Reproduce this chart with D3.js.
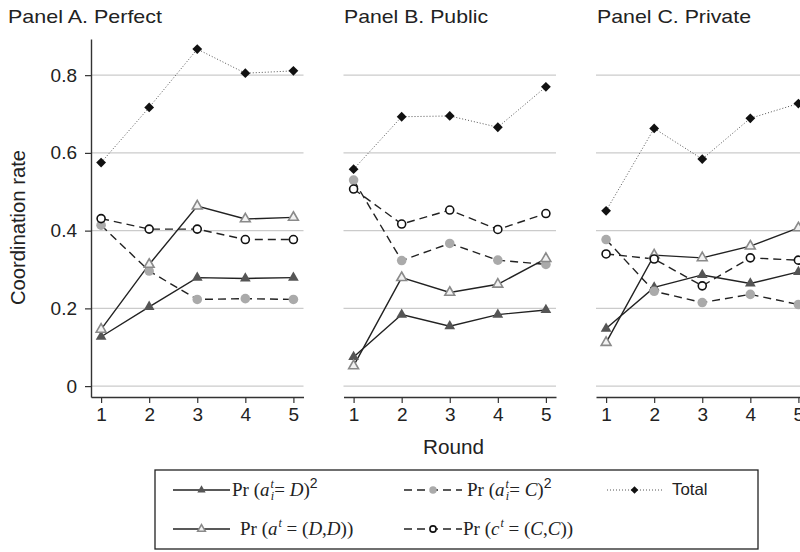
<!DOCTYPE html>
<html>
<head>
<meta charset="utf-8">
<script src="https://cdn.jsdelivr.net/npm/d3@7"></script>
<style>
  body { margin: 0; background: #fff; }
  svg { display: block; font-family: "Liberation Sans", Arial, sans-serif; }
  text { white-space: pre; }
</style>
</head>
<body>
<svg id="chart" width="800" height="552"></svg>
<script>
// данные
const rounds = [1, 2, 3, 4, 5];
const panelTitles = ["Panel A. Perfect", "Panel B. Public", "Panel C. Private"];
const yTicks = [0, 0.2, 0.4, 0.6, 0.8];
const yTickLabels = ["0", "0.2", "0.4", "0.6", "0.8"];

// по панелям A, B, C
const prD2 = [[0.127, 0.204, 0.279, 0.277, 0.279], [0.075, 0.184, 0.154, 0.184, 0.196], [0.148, 0.254, 0.286, 0.264, 0.294]];
const prC2 = [[0.414, 0.296, 0.223, 0.225, 0.223], [0.530, 0.323, 0.367, 0.324, 0.313], [0.377, 0.244, 0.215, 0.236, 0.210]];
const total = [[0.575, 0.717, 0.867, 0.805, 0.811], [0.558, 0.693, 0.695, 0.666, 0.770], [0.451, 0.663, 0.584, 0.689, 0.727]];
const prDD = [[0.146, 0.313, 0.463, 0.430, 0.434], [0.052, 0.279, 0.241, 0.262, 0.328], [0.112, 0.337, 0.330, 0.360, 0.407]];
const prCC = [[0.431, 0.404, 0.404, 0.377, 0.377], [0.507, 0.417, 0.453, 0.403, 0.444], [0.340, 0.327, 0.258, 0.330, 0.324]];

const ink = "#222";
const serif = "'Liberation Serif', 'Times New Roman', serif";

// порядок как в легенде
const series = [
    { vals: prD2, dash: null, stroke: ink, width: 1.4, marker: "triFill" },
    { vals: prC2, dash: "8,5", stroke: ink, width: 1.4, marker: "dotGray" },
    { vals: total, dash: "1,2", stroke: "#555", width: 1, marker: "diamond" },
    { vals: prDD, dash: null, stroke: ink, width: 1.4, marker: "triHollow" },
    { vals: prCC, dash: "8,5", stroke: ink, width: 1.4, marker: "circHollow" }
];

const svg = d3.select("#chart");

const area = { top: 39, bottom: 397, panelW: 212.5 };
const panelX0 = [91, 343.5, 596];
const titleX = [8, 344, 597];
const titleW = [154, 144, 154];

// общая шкала Y
const scY = d3.scaleLinear().domain([-0.028, 0.893]).range([area.bottom, area.top]);

// рисуем маркер
function marker(g, type, x, y, k) {
    k = k || 1;
    if (type === "triFill" || type === "triHollow") {
        const p = g.append("path")
            .attr("d", d3.symbol().type(d3.symbolTriangle).size(type === "triFill" ? 50 * k : 42 * k)())
            .attr("transform", `translate(${x},${y})`);
        if (type === "triFill") p.attr("fill", "#555");
        else p.attr("fill", "#f2f2f2").attr("stroke", "#8a8a8a").attr("stroke-width", 1.6);
    } else if (type === "dotGray") {
        g.append("circle").attr("cx", x).attr("cy", y).attr("r", 4.8 * Math.sqrt(k)).attr("fill", "#aaa");
    } else if (type === "circHollow") {
        g.append("circle").attr("cx", x).attr("cy", y).attr("r", 4 * Math.sqrt(k))
            .attr("fill", "#fff").attr("stroke", "#111").attr("stroke-width", 1.6);
    } else if (type === "diamond") {
        g.append("path")
            .attr("d", d3.symbol().type(d3.symbolSquare).size(48 * k)())
            .attr("transform", `translate(${x},${y}) rotate(45)`)
            .attr("fill", "#111");
    }
}

panelX0.forEach((x0, p) => {
    const g = svg.append("g");
    const scX = d3.scaleLinear().domain([0.79, 5.21]).range([x0, x0 + area.panelW]);

    // сетка
    g.selectAll(".grid")
        .data(yTicks)
        .enter()
        .append("line")
        .attr("x1", x0)
        .attr("x2", x0 + area.panelW)
        .attr("y1", d => scY(d))
        .attr("y2", d => scY(d))
        .attr("stroke", "#cbcbcb")
        .attr("stroke-width", 1.2);

    // ось X
    const ax = g.append("g")
        .attr("transform", `translate(0,${area.bottom})`)
        .call(d3.axisBottom(scX).tickValues(rounds).tickSize(6).tickPadding(5).tickSizeOuter(0).tickFormat(d3.format("d")));
    ax.select(".domain").attr("stroke", "#333").attr("stroke-width", 1.4);
    ax.selectAll(".tick line").attr("stroke", "#333").attr("stroke-width", 1.2);
    ax.selectAll("text").style("font-size", "19px").attr("fill", ink);

    // ось Y только у первой панели
    if (p === 0) {
        const ay = g.append("g")
            .attr("transform", `translate(${x0},0)`)
            .call(d3.axisLeft(scY).tickValues(yTicks).tickSize(6).tickPadding(8).tickSizeOuter(0)
                .tickFormat((d, i) => yTickLabels[i]));
        ay.select(".domain").attr("stroke", "#333").attr("stroke-width", 1.4);
        ay.selectAll(".tick line").attr("stroke", "#333").attr("stroke-width", 1.2);
        ay.selectAll("text").style("font-size", "19px").attr("fill", ink);
    }

    // заголовок панели
    svg.append("text")
        .attr("x", titleX[p])
        .attr("y", 23.3)
        .style("font-size", "19px")
        .attr("textLength", titleW[p])
        .attr("lengthAdjust", "spacingAndGlyphs")
        .attr("fill", ink)
        .text(panelTitles[p]);

    // линии и маркеры
    const line = d3.line().x((d, i) => scX(rounds[i])).y(d => scY(d));
    for (let s of series) {
        g.append("path")
            .attr("d", line(s.vals[p]))
            .attr("fill", "none")
            .attr("stroke", s.stroke)
            .attr("stroke-width", s.width)
            .attr("stroke-dasharray", s.dash);
    }
    for (let s of series) {
        s.vals[p].forEach((v, i) => marker(g, s.marker, scX(rounds[i]), scY(v)));
    }
});

// подписи осей
svg.append("text")
    .attr("transform", "translate(25,227.5) rotate(-90)")
    .attr("text-anchor", "middle")
    .style("font-size", "19.5px")
    .attr("textLength", 155)
    .attr("lengthAdjust", "spacingAndGlyphs")
    .attr("fill", ink)
    .text("Coordination rate");

svg.append("text")
    .attr("x", 453.5)
    .attr("y", 453.7)
    .attr("text-anchor", "middle")
    .style("font-size", "19.5px")
    .attr("textLength", 61)
    .attr("lengthAdjust", "spacingAndGlyphs")
    .attr("fill", ink)
    .text("Round");

// легенда
const leg = svg.append("g");
leg.append("rect")
    .attr("x", 155).attr("y", 470).attr("width", 603).attr("height", 79)
    .attr("fill", "none").attr("stroke", "#222").attr("stroke-width", 1.3);

const rowY = [490, 529];
const legItems = [
    { s: 0, x1: 173, x2: 230, row: 0 },
    { s: 1, x1: 404, x2: 462, row: 0 },
    { s: 2, x1: 607, x2: 662, row: 0 },
    { s: 3, x1: 173, x2: 230, row: 1 },
    { s: 4, x1: 404, x2: 462, row: 1 }
];
legItems.forEach(it => {
    const s = series[it.s];
    const y = rowY[it.row];
    leg.append("line")
        .attr("x1", it.x1).attr("x2", it.x2).attr("y1", y).attr("y2", y)
        .attr("stroke", s.stroke).attr("stroke-width", s.width === 1 ? 1 : 1.3)
        .attr("stroke-dasharray", s.dash);
    marker(leg, s.marker, (it.x1 + it.x2) / 2, y, 0.6);
});

// формулы в легенде
function mathText(x, y, parts) {
    const t = leg.append("text").attr("x", x).attr("y", y)
        .style("font-family", serif).style("font-size", "19px").attr("fill", ink);
    parts.forEach(pt => {
        const s = t.append("tspan").text(pt[0]);
        const o = pt[1] || {};
        if (o.it) s.style("font-style", "italic");
        if (o.fs) s.style("font-size", o.fs + "px");
        if (o.dx) s.attr("dx", o.dx);
        if (o.dy) s.attr("dy", o.dy);
        if (o.sans) s.style("font-family", "'Liberation Sans', Arial, sans-serif");
    });
}

mathText(232, 496, [["Pr ("], ["a", { it: 1 }], ["t", { it: 1, fs: 12, dy: -8, dx: 1 }], ["i", { it: 1, fs: 12, dx: -3, dy: 12 }],
    ["= ", { dy: -4 }], ["D", { it: 1 }], [")"], ["2", { sans: 1, fs: 14, dy: -8 }]]);
mathText(467, 496, [["Pr ("], ["a", { it: 1 }], ["t", { it: 1, fs: 12, dy: -8, dx: 1 }], ["i", { it: 1, fs: 12, dx: -3, dy: 12 }],
    ["= ", { dy: -4 }], ["C", { it: 1 }], [")"], ["2", { sans: 1, fs: 14, dy: -8 }]]);
mathText(240, 535, [["Pr ("], ["a", { it: 1 }], ["t", { it: 1, fs: 12, dy: -8, dx: 1 }], [" = (", { dy: 8 }],
    ["D", { it: 1 }], [","], ["D", { it: 1 }], ["))"]]);
mathText(463, 535, [["Pr ("], ["c", { it: 1 }], ["t", { it: 1, fs: 12, dy: -8, dx: 1 }], [" = (", { dy: 8 }],
    ["C", { it: 1 }], [","], ["C", { it: 1 }], ["))"]]);

leg.append("text")
    .attr("x", 672).attr("y", 495)
    .style("font-size", "16.5px")
    .attr("textLength", 35.5)
    .attr("lengthAdjust", "spacingAndGlyphs")
    .attr("fill", ink)
    .text("Total");
</script>
</body>
</html>
